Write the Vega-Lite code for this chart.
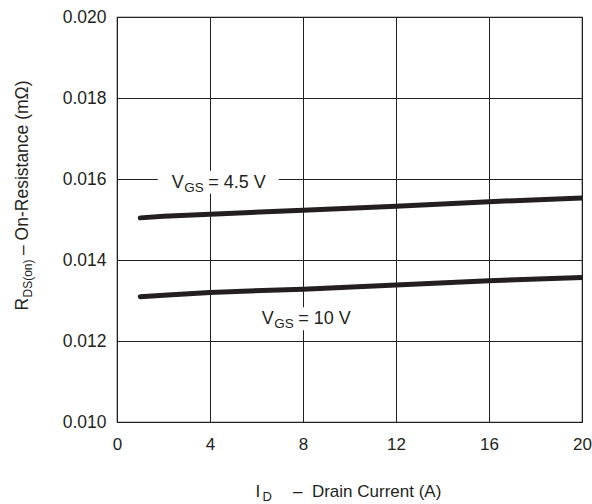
{
  "$schema": "https://vega.github.io/schema/vega-lite/v6.json",
  "width": 465,
  "height": 405,
  "autosize": {"type": "none"},
  "padding": {"left": 117, "top": 17, "right": 10, "bottom": 82},
  "background": "white",
  "config": {
    "view": {"stroke": "#231f20", "strokeWidth": 1.2},
    "font": "Liberation Sans",
    "text": {"font": "Liberation Sans", "fill": "#231f20"}
  },
  "datasets": {
    "curves": [
      {"vgs": "4.5 V", "id": 1, "r": 0.01504},
      {"vgs": "4.5 V", "id": 2, "r": 0.01508},
      {"vgs": "4.5 V", "id": 4, "r": 0.01513},
      {"vgs": "4.5 V", "id": 8, "r": 0.01523},
      {"vgs": "4.5 V", "id": 12, "r": 0.01533},
      {"vgs": "4.5 V", "id": 16, "r": 0.01544},
      {"vgs": "4.5 V", "id": 20, "r": 0.01553},
      {"vgs": "10 V", "id": 1, "r": 0.013094},
      {"vgs": "10 V", "id": 2, "r": 0.01313},
      {"vgs": "10 V", "id": 4, "r": 0.0132},
      {"vgs": "10 V", "id": 8, "r": 0.01328},
      {"vgs": "10 V", "id": 12, "r": 0.01338},
      {"vgs": "10 V", "id": 16, "r": 0.01349},
      {"vgs": "10 V", "id": 20, "r": 0.01357}
    ],
    "labels": [
      {"x": 2.353, "y": 0.015785, "main": "V", "sub": "GS", "rest": "= 4.5 V"},
      {"x": 6.224, "y": 0.012412, "main": "V", "sub": "GS", "rest": "= 10 V"}
    ],
    "titles": [
      {"axis": "y", "main": "R", "sub": "DS(on)", "rest": "–\u00a0On-Resistance (mΩ)"},
      {"axis": "x", "main": "I", "sub": "D", "rest": "–\u00a0\u00a0Drain Current (A)"}
    ]
  },
  "layer": [
    {
      "data": {"name": "labels"},
      "mark": {"type": "point", "shape": "M-0.231,-0.281L1.769,-0.281L1.769,0.099L-0.231,0.099Z", "size": 14641, "filled": true, "fill": "white", "stroke": null, "opacity": 1},
      "encoding": {
        "x": {"field": "x", "type": "quantitative", "scale": {"domain": [0, 20], "nice": false},
          "axis": {"values": [0, 4, 8, 12, 16, 20], "grid": true, "gridColor": "#231f20", "gridOpacity": 1, "gridWidth": 1, "domain": false, "ticks": false, "tickSize": 0, "labelFontSize": 17, "labelColor": "#231f20", "labelFont": "Liberation Sans", "labelPadding": 14, "title": null, "labelFlush": false}},
        "y": {"field": "y", "type": "quantitative", "scale": {"domain": [0.01, 0.02], "nice": false, "zero": false},
          "axis": {"values": [0.01, 0.012, 0.014, 0.016, 0.018, 0.02], "format": ".3f", "grid": true, "gridColor": "#231f20", "gridOpacity": 1, "gridWidth": 1, "domain": false, "ticks": false, "tickSize": 0, "labelFontSize": 17.5, "labelColor": "#231f20", "labelFont": "Liberation Sans", "labelPadding": 11, "title": null, "labelFlush": false}}
      }
    },
    {
      "data": {"name": "curves"},
      "mark": {"type": "line", "stroke": "#231f20", "strokeWidth": 5, "strokeCap": "round", "clip": true},
      "encoding": {
        "x": {"field": "id", "type": "quantitative"},
        "y": {"field": "r", "type": "quantitative"},
        "detail": {"field": "vgs"}
      }
    },
    {
      "data": {"name": "labels"},
      "mark": {"type": "text", "align": "left", "baseline": "alphabetic", "fontSize": 18},
      "encoding": {
        "x": {"field": "x", "type": "quantitative"},
        "y": {"field": "y", "type": "quantitative"},
        "text": {"field": "main"}
      }
    },
    {
      "data": {"name": "labels"},
      "mark": {"type": "text", "align": "left", "baseline": "alphabetic", "fontSize": 13.5, "dx": 12.5, "dy": 4},
      "encoding": {
        "x": {"field": "x", "type": "quantitative"},
        "y": {"field": "y", "type": "quantitative"},
        "text": {"field": "sub"}
      }
    },
    {
      "data": {"name": "labels"},
      "mark": {"type": "text", "align": "left", "baseline": "alphabetic", "fontSize": 18, "dx": 36.5},
      "encoding": {
        "x": {"field": "x", "type": "quantitative"},
        "y": {"field": "y", "type": "quantitative"},
        "text": {"field": "rest"}
      }
    },
    {
      "data": {"name": "titles"},
      "transform": [{"filter": "datum.axis == 'y'"}],
      "mark": {"type": "text", "align": "left", "baseline": "alphabetic", "fontSize": 17.5, "angle": 270, "dx": 111.5, "dy": -89},
      "encoding": {"x": {"datum": 0}, "y": {"datum": 0.01}, "text": {"field": "main"}}
    },
    {
      "data": {"name": "titles"},
      "transform": [{"filter": "datum.axis == 'y'"}],
      "mark": {"type": "text", "align": "left", "baseline": "alphabetic", "fontSize": 12, "angle": 270, "dx": 124.5, "dy": -85.5},
      "encoding": {"x": {"datum": 0}, "y": {"datum": 0.01}, "text": {"field": "sub"}}
    },
    {
      "data": {"name": "titles"},
      "transform": [{"filter": "datum.axis == 'y'"}],
      "mark": {"type": "text", "align": "left", "baseline": "alphabetic", "fontSize": 17.5, "angle": 270, "dx": 167, "dy": -89},
      "encoding": {"x": {"datum": 0}, "y": {"datum": 0.01}, "text": {"field": "rest"}}
    },
    {
      "data": {"name": "titles"},
      "transform": [{"filter": "datum.axis == 'x'"}],
      "mark": {"type": "text", "align": "left", "baseline": "alphabetic", "fontSize": 17, "dx": 138.5, "dy": 75},
      "encoding": {"x": {"datum": 0}, "y": {"datum": 0.01}, "text": {"field": "main"}}
    },
    {
      "data": {"name": "titles"},
      "transform": [{"filter": "datum.axis == 'x'"}],
      "mark": {"type": "text", "align": "left", "baseline": "alphabetic", "fontSize": 13, "dx": 145.5, "dy": 78.5},
      "encoding": {"x": {"datum": 0}, "y": {"datum": 0.01}, "text": {"field": "sub"}}
    },
    {
      "data": {"name": "titles"},
      "transform": [{"filter": "datum.axis == 'x'"}],
      "mark": {"type": "text", "align": "left", "baseline": "alphabetic", "fontSize": 17, "dx": 176, "dy": 75},
      "encoding": {"x": {"datum": 0}, "y": {"datum": 0.01}, "text": {"field": "rest"}}
    }
  ]
}
